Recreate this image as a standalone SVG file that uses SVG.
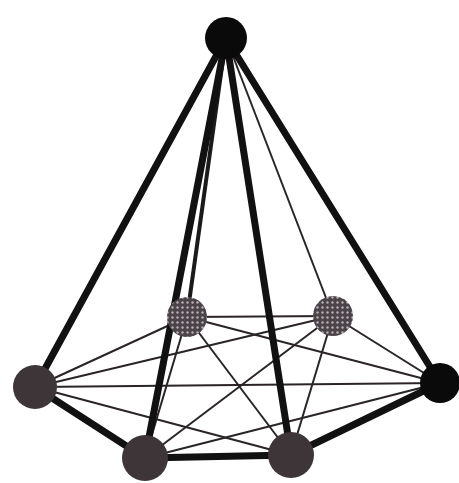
<svg xmlns="http://www.w3.org/2000/svg" width="459" height="483" viewBox="0 0 459 483">
<style>
.thin{stroke:#2a2426;stroke-width:2;fill:none}
.thick{stroke:#111;stroke-width:7;fill:none;stroke-linecap:round}
.mid{stroke:#1a1a1a;stroke-width:4;fill:none}
.n{fill:#3d3537}
.blk{fill:#0a0a0a}
.dot{fill:url(#dots)}
</style>
<defs>
<pattern id="dots" width="5" height="5" patternUnits="userSpaceOnUse">
<rect width="5" height="5" fill="#4a4348"/>
<circle cx="2.5" cy="2.5" r="1.2" fill="#b8b0b6"/>
</pattern>
</defs>
<rect width="459" height="483" fill="#fff"/>
<g id="connectors">
<line class="thin" x1="35" y1="387" x2="187" y2="317"/>
<line class="thin" x1="35" y1="387" x2="333" y2="316"/>
<line class="thin" x1="35" y1="387" x2="440" y2="383"/>
<line class="thin" x1="35" y1="387" x2="291" y2="455"/>
<line class="thin" x1="187" y1="317" x2="333" y2="316"/>
<line class="thin" x1="187" y1="317" x2="440" y2="383"/>
<line class="thin" x1="187" y1="317" x2="291" y2="455"/>
<line class="thin" x1="187" y1="317" x2="145" y2="458"/>
<line class="thin" x1="333" y1="316" x2="145" y2="458"/>
<line class="thin" x1="333" y1="316" x2="440" y2="383"/>
<line class="thin" x1="333" y1="316" x2="291" y2="455"/>
<line class="thin" x1="145" y1="458" x2="440" y2="383"/>
<line class="thick" x1="35" y1="387" x2="145" y2="458"/>
<line class="thick" x1="145" y1="458" x2="291" y2="455"/>
<line class="thick" x1="291" y1="455" x2="440" y2="383"/>
<line class="mid" x1="226" y1="38" x2="187" y2="317"/>
<line class="thin" x1="226" y1="38" x2="333" y2="316"/>
<line class="thick" x1="226" y1="38" x2="35" y2="387"/>
<line class="thick" x1="226" y1="38" x2="145" y2="458"/>
<line class="thick" x1="226" y1="38" x2="291" y2="455"/>
<line class="thick" x1="226" y1="38" x2="440" y2="383"/>
</g>
<g id="apex"><circle class="blk" cx="226" cy="38" r="21"/></g>
<g id="back-left"><circle class="dot" cx="187" cy="317" r="20"/></g>
<g id="back-right"><circle class="dot" cx="333" cy="316" r="20"/></g>
<g id="left"><circle class="n" cx="35" cy="387" r="22"/></g>
<g id="bottom-left"><circle class="n" cx="145" cy="458" r="23"/></g>
<g id="bottom-right"><circle class="n" cx="291" cy="455" r="23"/></g>
<g id="right"><circle class="blk" cx="440" cy="383" r="20"/></g>
</svg>
